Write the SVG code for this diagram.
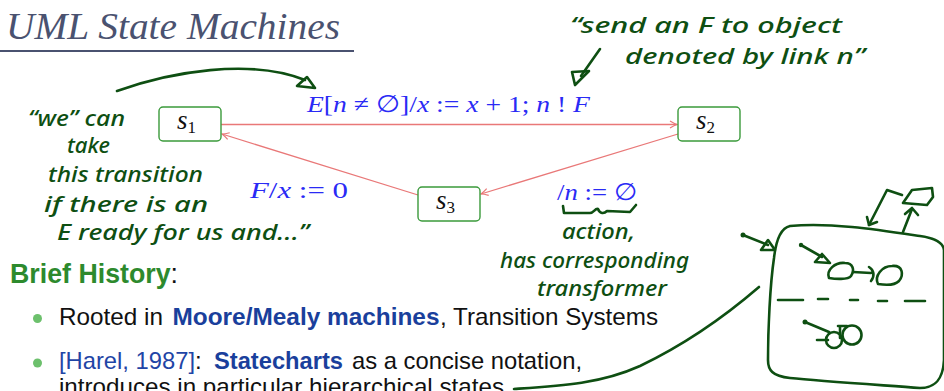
<svg xmlns="http://www.w3.org/2000/svg" width="944" height="391" viewBox="0 0 944 391">
<style>
.title{font-family:"Liberation Serif",serif;font-style:italic;font-size:37px;fill:#4a5270}
.node rect{fill:#fff;stroke:#3b9a3b;stroke-width:1.4}
.nl{font-family:"Liberation Serif",serif;font-size:27px;fill:#111}
.edge{fill:none;stroke:#e97878;stroke-width:1.3}
.m{font-family:"Liberation Serif","DejaVu Serif",serif;font-size:24px;fill:#2a2af5}
.i{font-style:italic}
.hw{font-family:"Noto Sans",sans-serif;font-style:italic;font-weight:500;font-size:21px;fill:#0e4f12}
.ink{fill:none;stroke:#0e4f12;stroke-width:2.6;stroke-linecap:round;stroke-linejoin:round}
.dot{fill:#0e4f12}
.b{font-family:"Liberation Sans",sans-serif;font-size:24px;fill:#111}
.bb{font-family:"Liberation Sans",sans-serif;font-size:24px;font-weight:bold;fill:#1a3f9c}
.bl{font-family:"Liberation Sans",sans-serif;font-size:24px;fill:#1f45a6}
.hd{font-family:"Liberation Sans",sans-serif;font-size:28px;fill:#111}
.hdg{font-weight:bold;fill:#2d8a2d}
.bul{fill:#6cc06c}
</style>
<defs>
<marker id="ah" viewBox="-8 -5 10 10" refX="0" refY="0" markerWidth="10" markerHeight="10" markerUnits="userSpaceOnUse" orient="auto">
<path d="M-7,-3.5 Q-2.5,-0.8 0,0 Q-2.5,0.8 -7,3.5" fill="none" stroke="#e97878" stroke-width="1.2"/>
</marker>
</defs>

<text class="title" x="6" y="39" textLength="334" lengthAdjust="spacingAndGlyphs">UML State Machines</text>
<line x1="0" y1="51" x2="354" y2="51" stroke="#4a5270" stroke-width="2"/>

<g id="connectors">
<line class="edge" x1="221" y1="124.5" x2="677" y2="124.5" marker-end="url(#ah)"/>
<line class="edge" x1="678" y1="134" x2="481" y2="194" marker-end="url(#ah)"/>
<line class="edge" x1="418" y1="195" x2="222" y2="134" marker-end="url(#ah)"/>
<text class="m" x="307" y="112" textLength="283" lengthAdjust="spacingAndGlyphs"><tspan class="i">E</tspan>[<tspan class="i">n</tspan> ≠ ∅]/<tspan class="i">x</tspan> := <tspan class="i">x</tspan> + 1; <tspan class="i">n</tspan> ! <tspan class="i">F</tspan></text>
<text class="m" x="250" y="198" textLength="98" lengthAdjust="spacingAndGlyphs"><tspan class="i">F</tspan>/<tspan class="i">x</tspan> := 0</text>
<text class="m" x="557" y="200" textLength="80" lengthAdjust="spacingAndGlyphs">/<tspan class="i">n</tspan> := ∅</text>
</g>

<g id="s1" class="node">
<rect x="159" y="107" width="62" height="34" rx="4"/>
<text class="nl" x="177" y="129"><tspan class="i">s</tspan><tspan font-size="17" dy="4">1</tspan></text>
</g>
<g id="s2" class="node">
<rect x="678" y="107" width="62" height="34" rx="4"/>
<text class="nl" x="696" y="129"><tspan class="i">s</tspan><tspan font-size="17" dy="4">2</tspan></text>
</g>
<g id="s3" class="node">
<rect x="418" y="187" width="62" height="34" rx="4"/>
<text class="nl" x="436" y="209"><tspan class="i">s</tspan><tspan font-size="17" dy="4">3</tspan></text>
</g>

<g id="annotations">
<text class="hw" x="28" y="126" textLength="97" lengthAdjust="spacingAndGlyphs">“we” can</text>
<text class="hw" x="67" y="153" textLength="43" lengthAdjust="spacingAndGlyphs">take</text>
<text class="hw" x="48" y="182" textLength="155" lengthAdjust="spacingAndGlyphs">this transition</text>
<text class="hw" x="44" y="212" textLength="164" lengthAdjust="spacingAndGlyphs">if there is an</text>
<text class="hw" x="57" y="240" textLength="252" lengthAdjust="spacingAndGlyphs">E ready for us and...”</text>
<path class="ink" d="M117,91 C170,72 250,58 305,80"/>
<path class="ink" d="M297,86 L315,88 L307,77 Z"/>

<text class="hw" x="570" y="33" textLength="272" lengthAdjust="spacingAndGlyphs">“send an F to object</text>
<text class="hw" x="625" y="64" textLength="240" lengthAdjust="spacingAndGlyphs">denoted by link n”</text>
<path class="ink" d="M600,49 L581,76"/>
<path class="ink" d="M572,72 L589,71 L575,85 Z"/>

<path class="ink" d="M563,206 L564,213 L590,213 C594,213 595,208 598,209 C600,214 604,214 607,211 L630,212 L636,205"/>
<text class="hw" x="562" y="239" textLength="73" lengthAdjust="spacingAndGlyphs">action,</text>
<text class="hw" x="500" y="268" textLength="189" lengthAdjust="spacingAndGlyphs">has corresponding</text>
<text class="hw" x="537" y="296" textLength="130" lengthAdjust="spacingAndGlyphs">transformer</text>

<path class="ink" d="M514,389 C560,386 600,384 640,366 C690,342 730,312 759,287"/>

<path class="ink" d="M790,226 C830,222 880,230 920,236 C935,238 943,242 944,250 L944,360 C943,380 935,388 920,388 C880,385 820,381 790,378 C772,376 768,370 768,360 C768,330 770,285 774,258 C776,240 781,228 790,226"/>
<circle class="dot" cx="743" cy="235" r="2.5"/>
<path class="ink" d="M743,235 L768,245"/>
<path class="ink" d="M761,250 L775,250 L768,240 Z"/>
<circle class="dot" cx="801" cy="245" r="2.2"/>
<path class="ink" d="M801,245 L822,257"/>
<path class="ink" d="M815,262 L830,263 L822,254 Z"/>
<path class="ink" d="M829,278 C826,270 835,262 845,263 C853,263 855,270 851,276 C848,280 835,279 829,278 Z"/>
<path class="ink" d="M853,272 L871,273 M869,267 C874,270 875,276 871,281"/>
<path class="ink" d="M878,284 C874,276 882,266 892,266 C903,265 904,275 899,281 C894,286 884,285 878,284 Z"/>
<path class="ink" d="M778,300 L803,300 M818,299 L828,299 M850,300 L858,300 M878,301 L887,301 M905,301 L925,301"/>
<circle class="dot" cx="805" cy="322" r="2.5"/>
<path class="ink" d="M805,322 L829,332 M817,340 L828,340"/>
<circle class="ink" cx="834" cy="340" r="8"/>
<circle class="ink" cx="852" cy="335" r="9.5"/>
<path class="ink" d="M840,326 L840,338 M838,326 L847,326"/>
<path class="ink" d="M869,225 L887,190 L902,195"/>
<path class="ink" d="M867,217 L869,225 L877,222"/>
<path class="ink" d="M903,203 L912,190 L932,188 L933,197 L927,205 Z"/>
<path class="ink" d="M903,232 L912,209 M905,214 L912,208 L918,215"/>
</g>

<text class="hd" x="10" y="283" textLength="168" lengthAdjust="spacingAndGlyphs"><tspan class="hdg">Brief History</tspan>:</text>

<circle class="bul" cx="37.5" cy="318.5" r="4.5"/>
<text class="b" x="59" y="325" textLength="104" lengthAdjust="spacingAndGlyphs">Rooted in</text>
<text class="bb" x="172.5" y="325" textLength="267" lengthAdjust="spacingAndGlyphs">Moore/Mealy machines</text>
<text class="b" x="440" y="325" textLength="218" lengthAdjust="spacingAndGlyphs">, Transition Systems</text>

<circle class="bul" cx="37.5" cy="363" r="4.5"/>
<text class="bl" x="59" y="369" textLength="136" lengthAdjust="spacingAndGlyphs">[Harel, 1987]</text>
<text class="b" x="195" y="369">:</text>
<text class="bb" x="214" y="369" textLength="129" lengthAdjust="spacingAndGlyphs">Statecharts</text>
<text class="b" x="352" y="369" textLength="230" lengthAdjust="spacingAndGlyphs">as a concise notation,</text>
<text class="b" x="59" y="395" textLength="445" lengthAdjust="spacingAndGlyphs">introduces in particular hierarchical states</text>
</svg>
